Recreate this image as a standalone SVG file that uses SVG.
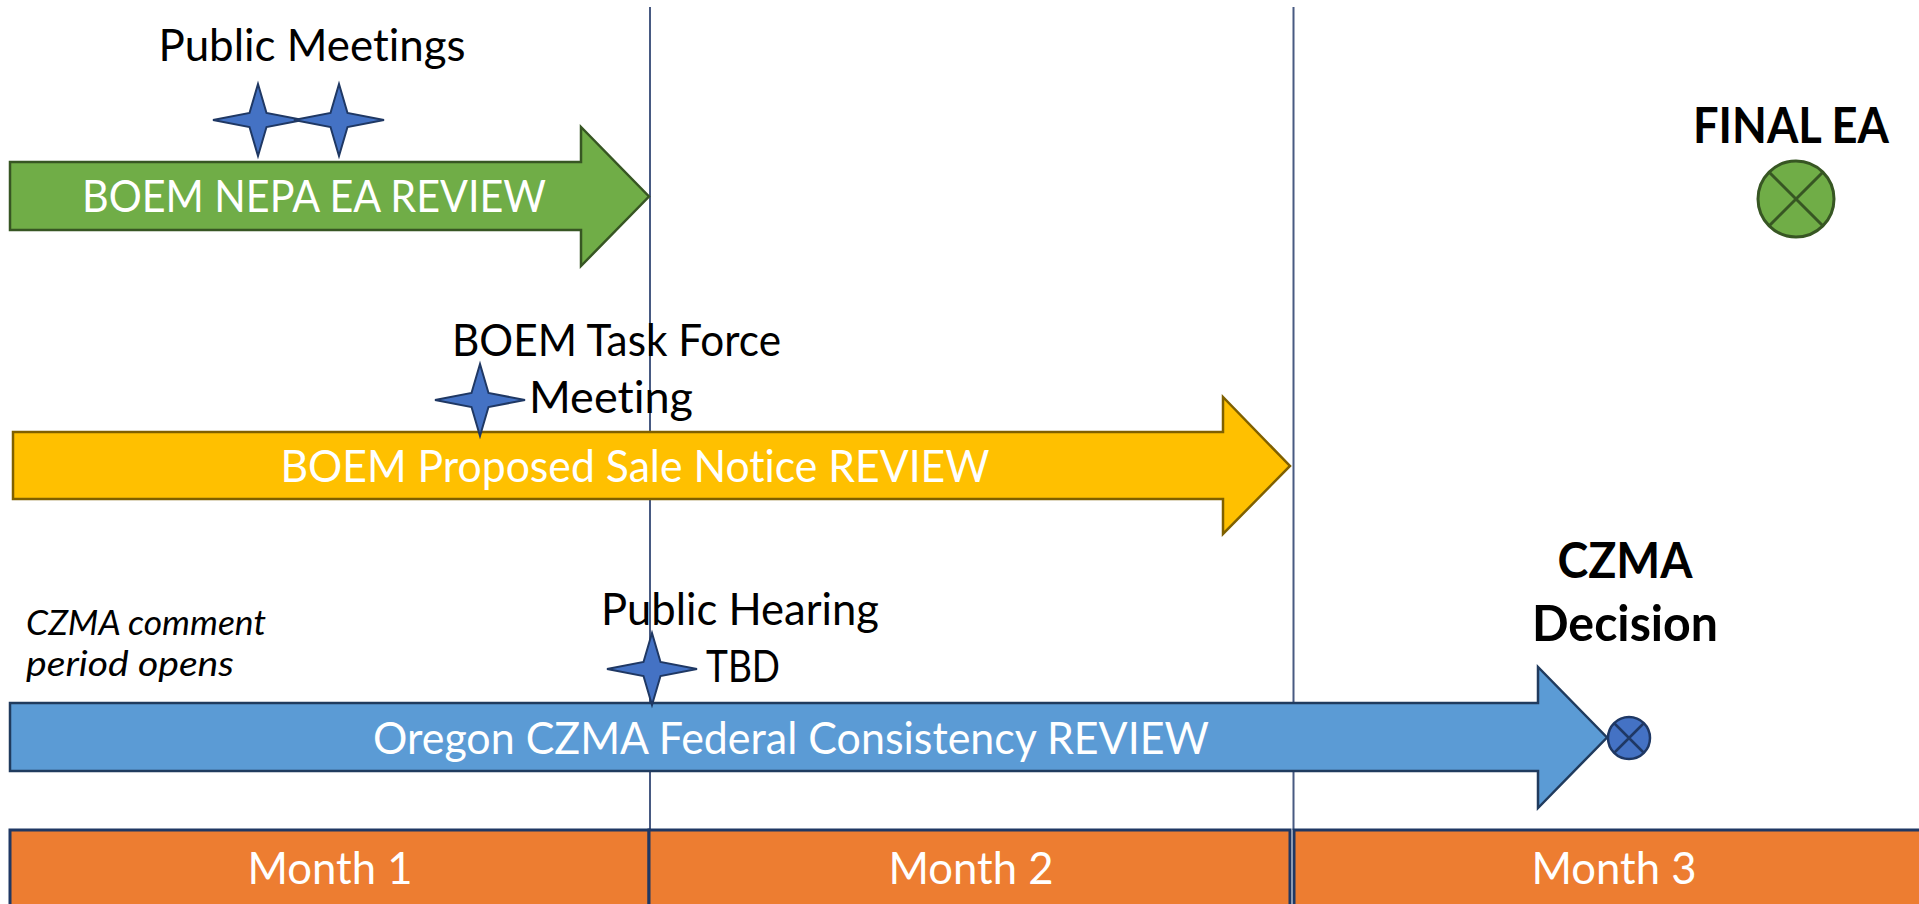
<svg xmlns="http://www.w3.org/2000/svg" width="1919" height="904" viewBox="0 0 1919 904">
<style>
.t{font-family:Lato,"Open Sans","Liberation Sans",sans-serif;font-size:44px;fill:#000;font-variant-ligatures:none}
.w{fill:#fff}
.b{font-weight:bold;font-size:49px}
.i{font-style:italic;font-size:35px}
.vline{stroke:#485A82;stroke-width:2;fill:none}
.star{fill:#4472C4;stroke:#1F3864;stroke-width:2;stroke-linejoin:miter}
.cell{fill:#ED7D31;stroke:#1F3864;stroke-width:3}
</style>
<defs>
<path id="star4" d="M0,-36 L8.5,-7 L45,0 L8.5,7 L0,36 L-8.5,7 L-45,0 L-8.5,-7 Z"/>
</defs>
<rect width="1919" height="904" fill="#fff"/>
<g id="connectors">
<line class="vline" x1="650" y1="7" x2="650" y2="830"/>
<line class="vline" x1="1293.5" y1="7" x2="1293.5" y2="830"/>
</g>
<g id="month-band">
<rect class="cell" x="10" y="830" width="639" height="90"/>
<rect class="cell" x="649" y="830" width="641" height="90"/>
<rect class="cell" x="1294" y="830" width="640" height="90"/>
<text class="t w" x="330" y="884" text-anchor="middle" textLength="165" lengthAdjust="spacingAndGlyphs">Month 1</text>
<text class="t w" x="971" y="884" text-anchor="middle" textLength="165" lengthAdjust="spacingAndGlyphs">Month 2</text>
<text class="t w" x="1614" y="884" text-anchor="middle" textLength="165" lengthAdjust="spacingAndGlyphs">Month 3</text>
</g>
<g id="nepa-arrow">
<path d="M10,162 H581 V127 L649,196.5 L581,266 V230 H10 Z" fill="#70AD47" stroke="#375623" stroke-width="2.5"/>
<text class="t w" x="314" y="212" text-anchor="middle" textLength="464" lengthAdjust="spacingAndGlyphs">BOEM NEPA EA REVIEW</text>
</g>
<g id="sale-arrow">
<path d="M13,432 H1223 V397 L1290,466 L1223,534 V499 H13 Z" fill="#FFC000" stroke="#7F6000" stroke-width="2.5"/>
<text class="t w" x="635" y="482" text-anchor="middle" textLength="709" lengthAdjust="spacingAndGlyphs">BOEM Proposed Sale Notice REVIEW</text>
</g>
<g id="czma-arrow">
<path d="M10,703 H1538 V667 L1607,737.5 L1538,808 V771 H10 Z" fill="#5B9BD5" stroke="#203B5E" stroke-width="2.5"/>
<text class="t w" x="791" y="754" text-anchor="middle" textLength="836" lengthAdjust="spacingAndGlyphs">Oregon CZMA Federal Consistency REVIEW</text>
</g>
<g id="public-meetings">
<text class="t" x="312" y="61" text-anchor="middle" textLength="307" lengthAdjust="spacingAndGlyphs">Public Meetings</text>
<use href="#star4" class="star" transform="translate(258,120)"/>
<use href="#star4" class="star" transform="translate(339,120)"/>
</g>
<g id="task-force">
<text class="t" x="452" y="356" textLength="329" lengthAdjust="spacingAndGlyphs">BOEM Task Force</text>
<text class="t" x="529" y="413" textLength="164" lengthAdjust="spacingAndGlyphs">Meeting</text>
<use href="#star4" class="star" transform="translate(480,400)"/>
</g>
<g id="public-hearing">
<text class="t" x="601" y="625" textLength="278" lengthAdjust="spacingAndGlyphs">Public Hearing</text>
<text class="t" x="706" y="682" textLength="74" lengthAdjust="spacingAndGlyphs">TBD</text>
<use href="#star4" class="star" transform="translate(652,669)"/>
</g>
<g id="czma-comment">
<text class="t i" x="26" y="635" textLength="240" lengthAdjust="spacingAndGlyphs">CZMA comment</text>
<text class="t i" x="26" y="676" textLength="208" lengthAdjust="spacingAndGlyphs">period opens</text>
</g>
<g id="final-ea">
<text class="t b" x="1791" y="143" text-anchor="middle" textLength="196" lengthAdjust="spacingAndGlyphs">FINAL EA</text>
<circle cx="1796" cy="199" r="38" fill="#70AD47" stroke="#375623" stroke-width="3"/>
<path d="M1769,172 L1823,226 M1823,172 L1769,226" stroke="#375623" stroke-width="3"/>
</g>
<g id="czma-decision">
<text class="t b" x="1625" y="578" text-anchor="middle" textLength="135" lengthAdjust="spacingAndGlyphs">CZMA</text>
<text class="t b" x="1625" y="641" text-anchor="middle" textLength="186" lengthAdjust="spacingAndGlyphs">Decision</text>
<circle cx="1629" cy="738" r="21" fill="#4472C4" stroke="#1F3864" stroke-width="2.5"/>
<path d="M1614,723 L1644,753 M1644,723 L1614,753" stroke="#1F3864" stroke-width="2.5"/>
</g>
</svg>
